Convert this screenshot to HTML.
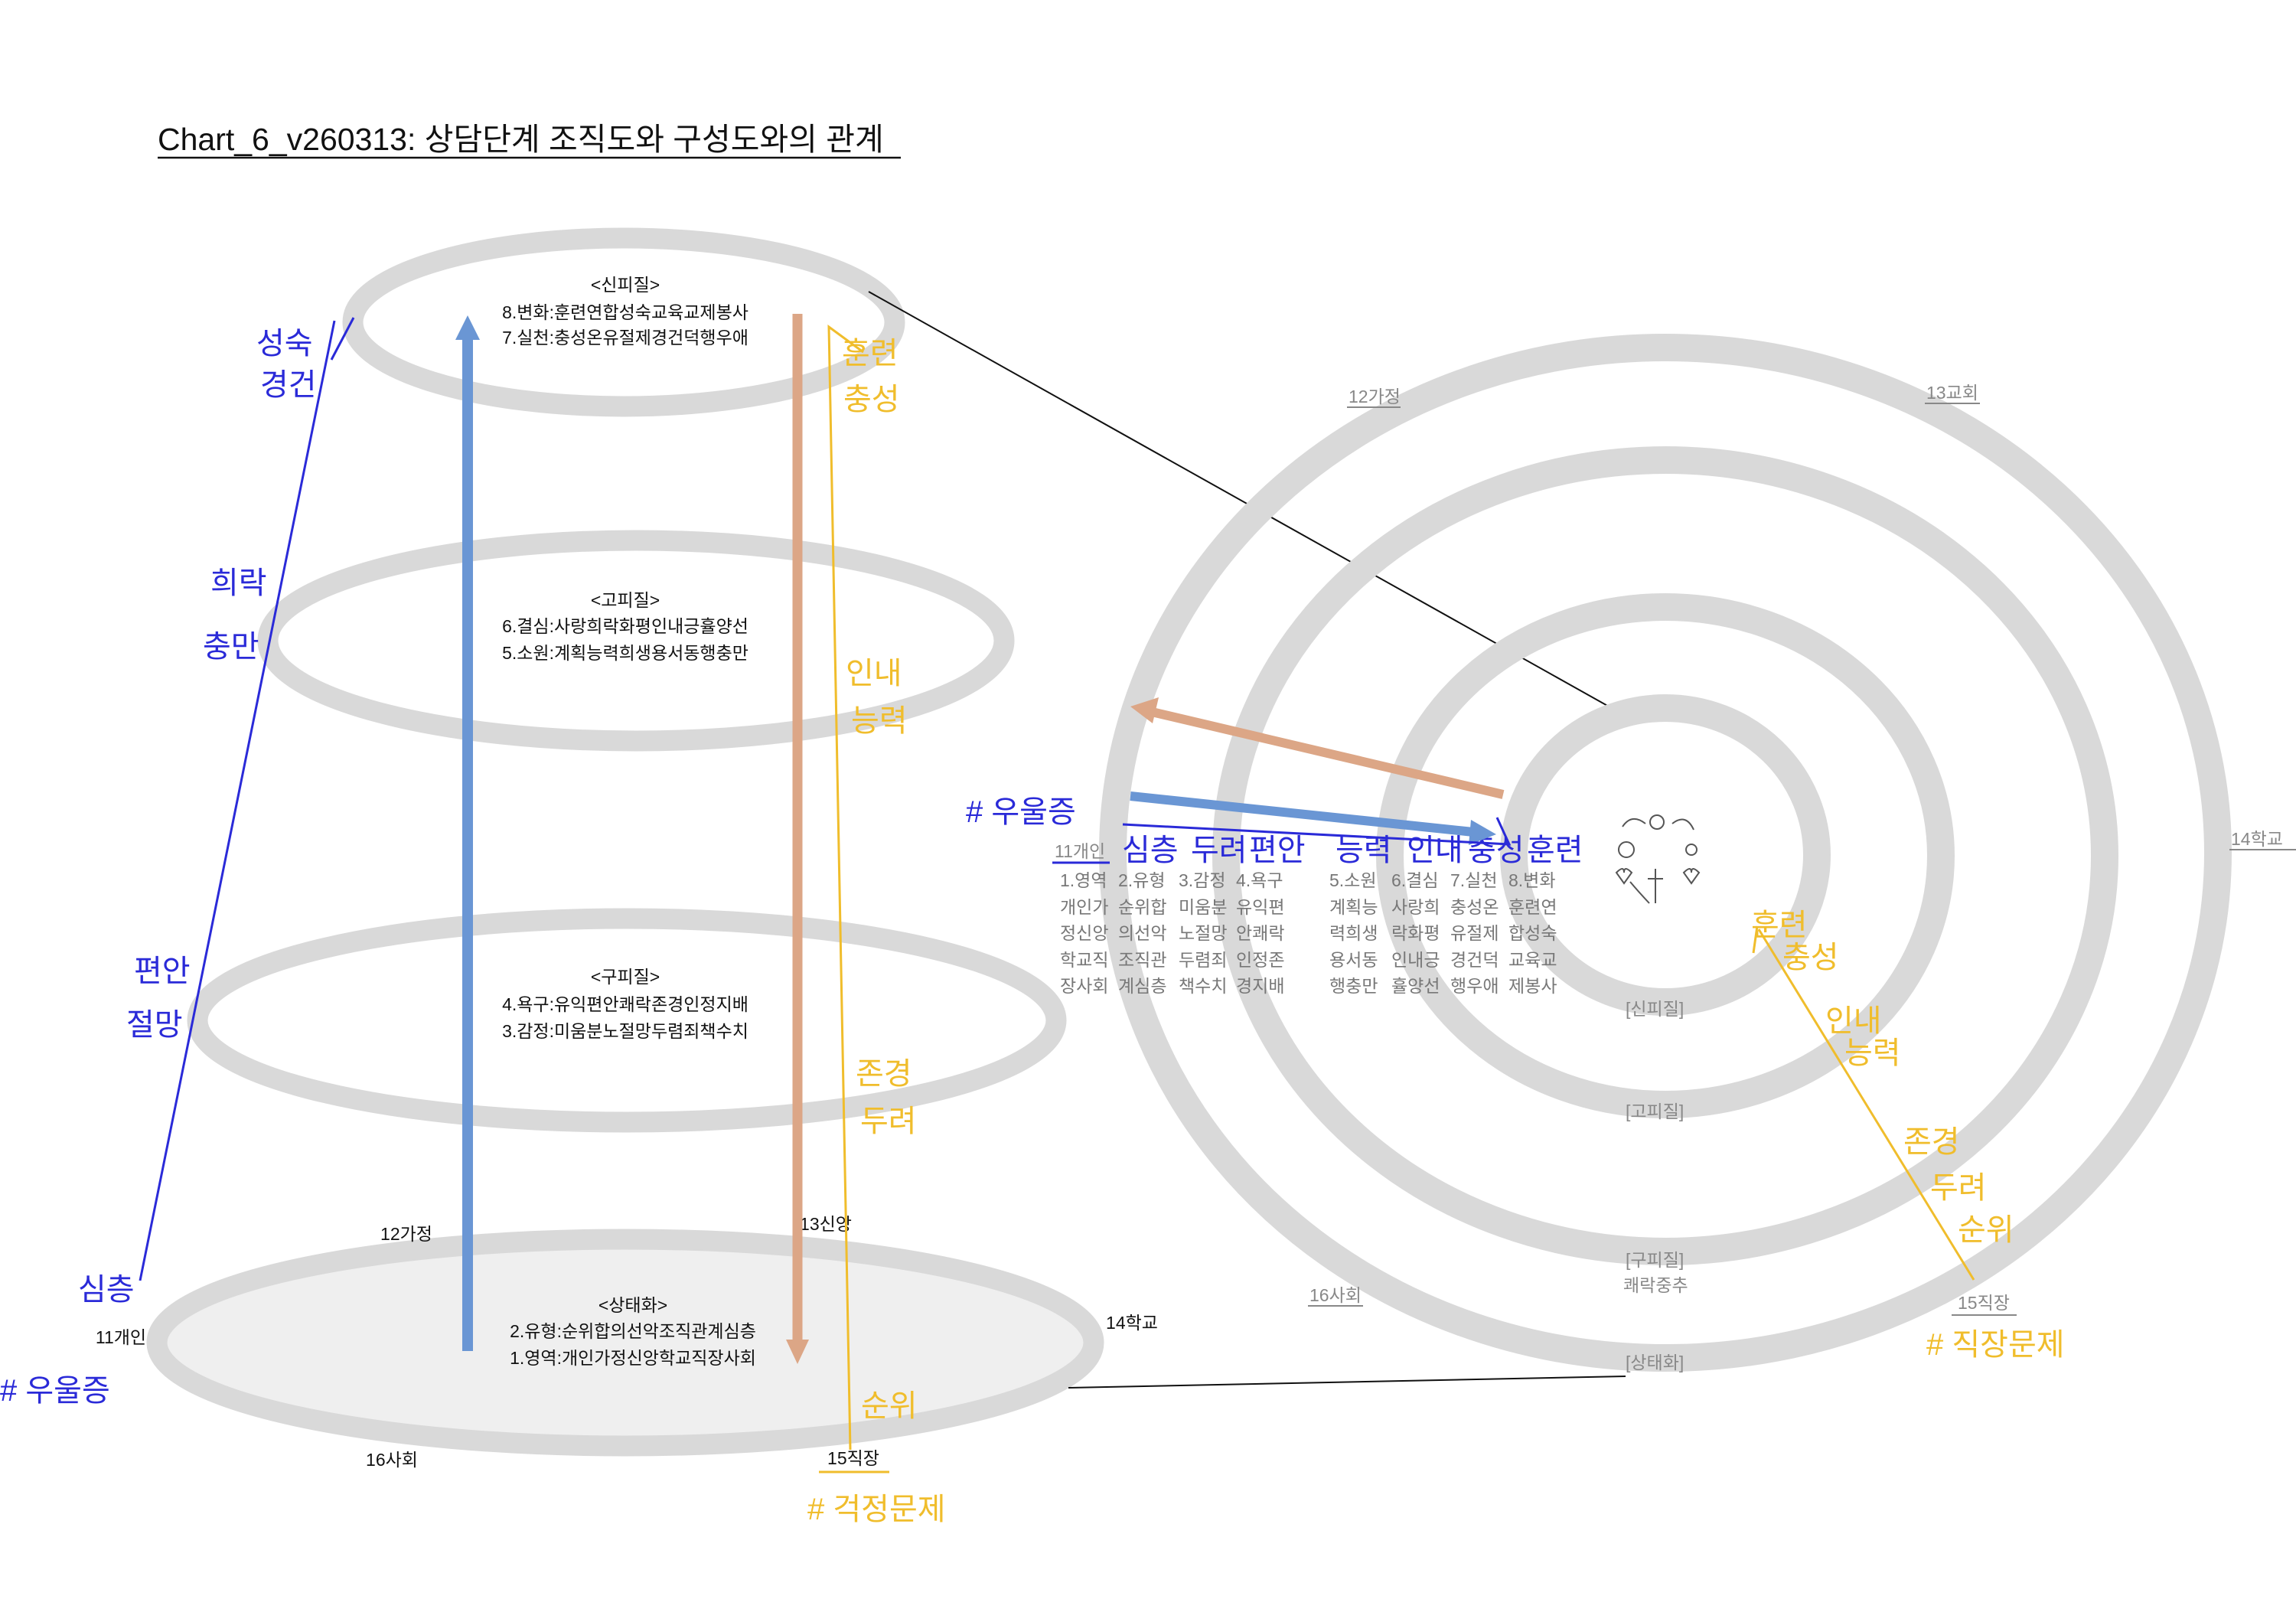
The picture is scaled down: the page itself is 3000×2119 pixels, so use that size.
<!DOCTYPE html>
<html><head><meta charset="utf-8"><style>
html,body{margin:0;padding:0;background:#fff}
svg{display:block}
text{font-family:"Liberation Sans","Noto Sans CJK KR",sans-serif}
.k{font-size:23px;fill:#111;text-anchor:middle}
.g{font-size:23px;fill:#888}
.t{font-size:23px;fill:#777}
.hb{font-size:40px;fill:#2a2ad8}
.hy{font-size:40px;fill:#f0bd2c}
</style></head><body>
<svg width="3000" height="2119" viewBox="0 0 3000 2119" xmlns="http://www.w3.org/2000/svg">
<rect width="3000" height="2119" fill="#fff"/>
<text x="206" y="196" font-size="41" fill="#111">Chart_6_v260313: 상담단계 조직도와 구성도와의 관계</text>
<line x1="206" y1="206" x2="1177" y2="206" stroke="#111" stroke-width="2.5"/>

<!-- left ellipses -->
<g fill="none" stroke="#d9d9d9" stroke-width="27">
<ellipse cx="815" cy="421" rx="354" ry="110"/>
<ellipse cx="831" cy="837" rx="481" ry="131"/>
<ellipse cx="819" cy="1333" rx="561" ry="133"/>
<ellipse cx="817" cy="1754" rx="612" ry="135" fill="#efefef"/>
</g>
<text class="k" x="817" y="380">&lt;신피질&gt;</text>
<text class="k" x="817" y="416">8.변화:훈련연합성숙교육교제봉사</text>
<text class="k" x="817" y="449">7.실천:충성온유절제경건덕행우애</text>
<text class="k" x="817" y="792">&lt;고피질&gt;</text>
<text class="k" x="817" y="826">6.결심:사랑희락화평인내긍휼양선</text>
<text class="k" x="817" y="861">5.소원:계획능력희생용서동행충만</text>
<text class="k" x="817" y="1284">&lt;구피질&gt;</text>
<text class="k" x="817" y="1320">4.욕구:유익편안쾌락존경인정지배</text>
<text class="k" x="817" y="1355">3.감정:미움분노절망두렴죄책수치</text>
<text class="k" x="827" y="1713">&lt;상태화&gt;</text>
<text class="k" x="827" y="1747">2.유형:순위합의선악조직관계심층</text>
<text class="k" x="827" y="1782">1.영역:개인가정신앙학교직장사회</text>

<text class="k" x="531" y="1620" font-size="22">12가정</text>
<text class="k" x="1079" y="1607" font-size="22">13신앙</text>
<text class="k" x="158" y="1755" font-size="22">11개인</text>
<text class="k" x="1479" y="1736" font-size="22">14학교</text>
<text class="k" x="512" y="1915" font-size="22">16사회</text>
<text class="k" x="1115" y="1913" font-size="22">15직장</text>
<line x1="1070" y1="1923" x2="1162" y2="1923" stroke="#f0bd2c" stroke-width="3"/>

<!-- arrows left -->
<line x1="611" y1="1765" x2="611" y2="440" stroke="#6a96d4" stroke-width="14"/>
<polygon points="595,444 627,444 611,412" fill="#6a96d4"/>
<line x1="1042" y1="410" x2="1042" y2="1752" stroke="#dca686" stroke-width="13"/>
<polygon points="1027,1750 1057,1750 1042,1782" fill="#dca686"/>
<polyline points="1128,460 1083,427 1111,1894" fill="none" stroke="#f0bd2c" stroke-width="3"/>
<line x1="437" y1="419" x2="183" y2="1673" stroke="#2a2ad8" stroke-width="3"/>
<line x1="462" y1="415" x2="433" y2="470" stroke="#2a2ad8" stroke-width="3"/>

<!-- black connectors -->
<line x1="1135" y1="381" x2="2120" y2="933" stroke="#111" stroke-width="2"/>
<line x1="1396" y1="1813" x2="2124" y2="1798" stroke="#111" stroke-width="2"/>

<!-- handwriting left -->
<text class="hb" x="335" y="462">성숙</text>
<text class="hb" x="340" y="516">경건</text>
<text class="hb" x="275" y="775">희락</text>
<text class="hb" x="265" y="858">충만</text>
<text class="hb" x="175" y="1282">편안</text>
<text class="hb" x="165" y="1352">절망</text>
<text class="hb" x="102" y="1698">심층</text>
<text class="hb" x="0" y="1830">#  우울증</text>
<text class="hy" x="1100" y="475">훈련</text>
<text class="hy" x="1102" y="535">충성</text>
<text class="hy" x="1105" y="893">인내</text>
<text class="hy" x="1112" y="955">능력</text>
<text class="hy" x="1118" y="1416">존경</text>
<text class="hy" x="1124" y="1478">두려</text>
<text class="hy" x="1125" y="1850">순위</text>
<text class="hy" x="1055" y="1985">#  걱정문제</text>

<!-- right rings -->
<g fill="none" stroke="#d9d9d9" stroke-width="36">
<ellipse cx="2176" cy="1117" rx="198" ry="192"/>
<ellipse cx="2176" cy="1118" rx="360" ry="325"/>
<ellipse cx="2176" cy="1118" rx="574" ry="517"/>
<ellipse cx="2176" cy="1114" rx="722" ry="660"/>
</g>
<g>
<text class="g" x="1762" y="526">12가정</text><line x1="1760" y1="532" x2="1830" y2="532" stroke="#888" stroke-width="2"/>
<text class="g" x="2517" y="521">13교회</text><line x1="2515" y1="527" x2="2587" y2="527" stroke="#888" stroke-width="2"/>
<text class="g" x="2915" y="1104">14학교</text><line x1="2913" y1="1110" x2="3000" y2="1110" stroke="#888" stroke-width="2"/>
<text class="g" x="1711" y="1700">16사회</text><line x1="1709" y1="1706" x2="1781" y2="1706" stroke="#888" stroke-width="2"/>
<text class="g" x="2558" y="1710">15직장</text><line x1="2550" y1="1718" x2="2635" y2="1718" stroke="#888" stroke-width="2"/>
<text class="g" x="2124" y="1326">[신피질]</text>
<text class="g" x="2124" y="1460">[고피질]</text>
<text class="g" x="2124" y="1654">[구피질]</text>
<text class="g" x="2121" y="1687">쾌락중추</text>
<text class="g" x="2124" y="1788">[상태화]</text>
</g>

<!-- table -->
<text class="g" x="1378" y="1120">11개인</text>
<line x1="1375" y1="1127" x2="1450" y2="1127" stroke="#2a2ad8" stroke-width="3"/>
<g>
<text class="t" x="1385" y="1158">1.영역</text><text class="t" x="1461" y="1158">2.유형</text><text class="t" x="1540" y="1158">3.감정</text><text class="t" x="1615" y="1158">4.욕구</text><text class="t" x="1737" y="1158">5.소원</text><text class="t" x="1818" y="1158">6.결심</text><text class="t" x="1895" y="1158">7.실천</text><text class="t" x="1971" y="1158">8.변화</text>
<text class="t" x="1385" y="1193">개인가</text><text class="t" x="1461" y="1193">순위합</text><text class="t" x="1540" y="1193">미움분</text><text class="t" x="1615" y="1193">유익편</text><text class="t" x="1737" y="1193">계획능</text><text class="t" x="1818" y="1193">사랑희</text><text class="t" x="1895" y="1193">충성온</text><text class="t" x="1971" y="1193">훈련연</text>
<text class="t" x="1385" y="1227">정신앙</text><text class="t" x="1461" y="1227">의선악</text><text class="t" x="1540" y="1227">노절망</text><text class="t" x="1615" y="1227">안쾌락</text><text class="t" x="1737" y="1227">력희생</text><text class="t" x="1818" y="1227">락화평</text><text class="t" x="1895" y="1227">유절제</text><text class="t" x="1971" y="1227">합성숙</text>
<text class="t" x="1385" y="1262">학교직</text><text class="t" x="1461" y="1262">조직관</text><text class="t" x="1540" y="1262">두렴죄</text><text class="t" x="1615" y="1262">인정존</text><text class="t" x="1737" y="1262">용서동</text><text class="t" x="1818" y="1262">인내긍</text><text class="t" x="1895" y="1262">경건덕</text><text class="t" x="1971" y="1262">교육교</text>
<text class="t" x="1385" y="1296">장사회</text><text class="t" x="1461" y="1296">계심층</text><text class="t" x="1540" y="1296">책수치</text><text class="t" x="1615" y="1296">경지배</text><text class="t" x="1737" y="1296">행충만</text><text class="t" x="1818" y="1296">휼양선</text><text class="t" x="1895" y="1296">행우애</text><text class="t" x="1971" y="1296">제봉사</text>
</g>
<g>
<text class="hb" x="1466" y="1124" font-size="32">심층</text>
<text class="hb" x="1556" y="1124" font-size="32">두려</text>
<text class="hb" x="1632" y="1124" font-size="32">편안</text>
<text class="hb" x="1745" y="1124" font-size="32">능력</text>
<text class="hb" x="1838" y="1124" font-size="32">인내</text>
<text class="hb" x="1918" y="1124" font-size="32">충성</text>
<text class="hb" x="1995" y="1124" font-size="32">훈련</text>
<text class="hb" x="1262" y="1074">#  우울증</text>
</g>

<!-- right arrows -->
<line x1="1964" y1="1038" x2="1505" y2="930" stroke="#dca686" stroke-width="12"/>
<polygon points="1477,923 1514,911 1506,945" fill="#dca686"/>
<line x1="1477" y1="1040" x2="1925" y2="1087" stroke="#6a96d4" stroke-width="12"/>
<polygon points="1955,1090 1922,1071 1919,1104" fill="#6a96d4"/>
<polyline points="1467,1077 1972,1103 1956,1068" fill="none" stroke="#2a2ad8" stroke-width="3"/>

<!-- yellow diagonal right -->
<line x1="2298" y1="1214" x2="2579" y2="1672" stroke="#f0bd2c" stroke-width="3"/>
<line x1="2296" y1="1210" x2="2291" y2="1245" stroke="#f0bd2c" stroke-width="3"/>
<text class="hy" x="2288" y="1222" font-size="32">훈련</text>
<text class="hy" x="2329" y="1264" font-size="32">충성</text>
<text class="hy" x="2385" y="1347" font-size="32">인내</text>
<text class="hy" x="2410" y="1389" font-size="32">능력</text>
<text class="hy" x="2487" y="1505" font-size="32">존경</text>
<text class="hy" x="2522" y="1565" font-size="32">두려</text>
<text class="hy" x="2558" y="1620" font-size="32">순위</text>
<text class="hy" x="2517" y="1770" font-size="34">#  직장문제</text>

<!-- small icon -->
<g fill="none" stroke="#555" stroke-width="2">
<circle cx="2165" cy="1074" r="9"/>
<path d="M2120 1080 q12 -18 30 -4"/><path d="M2185 1076 q18 -14 28 8"/>
<circle cx="2125" cy="1110" r="10"/><circle cx="2210" cy="1110" r="7"/>
<path d="M2112 1140 q10 -10 10 0 q0 -10 10 0 l-10 14 z"/>
<path d="M2200 1140 q10 -10 10 0 q0 -10 10 0 l-10 14 z"/>
<line x1="2163" y1="1135" x2="2163" y2="1180"/><line x1="2153" y1="1148" x2="2173" y2="1148"/>
<path d="M2130 1152 q10 12 25 28"/>
</g>
</svg>
</body></html>
